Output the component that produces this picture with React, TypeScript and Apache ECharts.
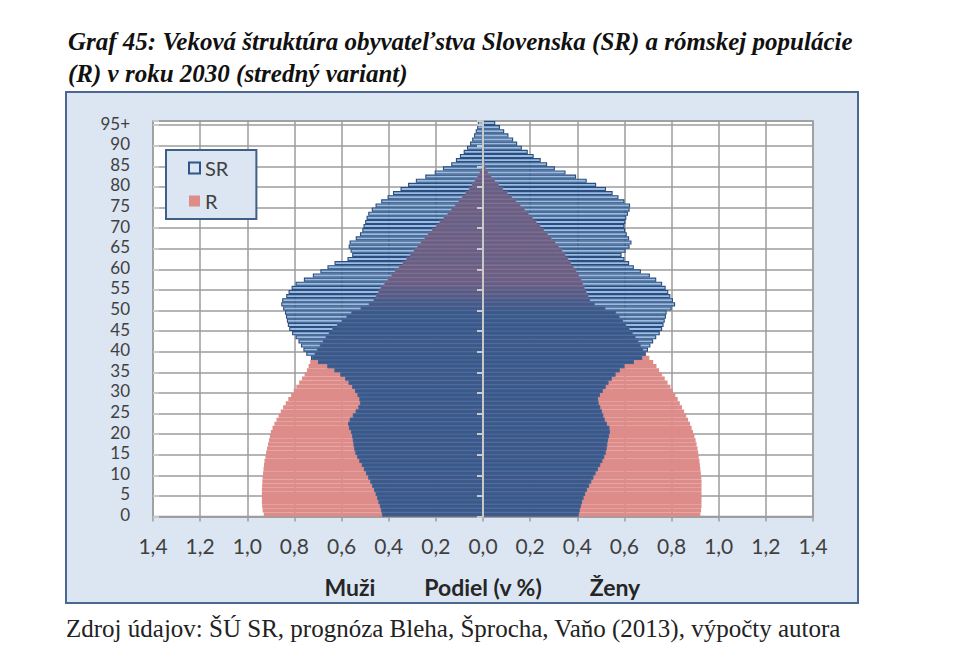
import React, { useEffect, useRef } from 'react';
import * as echarts from 'echarts';

// Ages 0..95 (95 = "95+")
const AGES: string[] = Array.from({ length: 96 }, (_, i) => String(i));

// Share of population (%) by single year of age, 2030
const SR_MEN = [
  0.428, 0.432, 0.437, 0.443, 0.449, 0.455, 0.462, 0.470, 0.478, 0.487,
  0.496, 0.505, 0.514, 0.524, 0.533, 0.541, 0.546, 0.549, 0.552, 0.555,
  0.560, 0.568, 0.572, 0.565, 0.552, 0.540, 0.528, 0.521, 0.524, 0.532,
  0.543, 0.555, 0.570, 0.585, 0.605, 0.630, 0.660, 0.700, 0.730, 0.750,
  0.762, 0.772, 0.783, 0.795, 0.810, 0.822, 0.828, 0.832, 0.836, 0.840,
  0.848, 0.856, 0.852, 0.835, 0.825, 0.812, 0.795, 0.760, 0.722, 0.690,
  0.660, 0.630, 0.575, 0.555, 0.562, 0.570, 0.566, 0.540, 0.522, 0.512,
  0.507, 0.500, 0.494, 0.487, 0.472, 0.456, 0.432, 0.405, 0.382, 0.350,
  0.318, 0.285, 0.245, 0.205, 0.170, 0.135, 0.115, 0.098, 0.082, 0.068,
  0.055, 0.046, 0.038, 0.031, 0.025, 0.022,
];
const SR_WOMEN = [
  0.406, 0.410, 0.415, 0.420, 0.426, 0.433, 0.441, 0.450, 0.459, 0.468,
  0.477, 0.487, 0.497, 0.506, 0.514, 0.520, 0.524, 0.527, 0.530, 0.534,
  0.538, 0.536, 0.525, 0.516, 0.510, 0.504, 0.497, 0.490, 0.488, 0.496,
  0.508, 0.520, 0.532, 0.546, 0.562, 0.580, 0.600, 0.640, 0.675, 0.690,
  0.700, 0.710, 0.722, 0.735, 0.750, 0.760, 0.766, 0.771, 0.776, 0.779,
  0.800, 0.815, 0.806, 0.795, 0.786, 0.775, 0.760, 0.735, 0.708, 0.670,
  0.640, 0.620, 0.600, 0.588, 0.605, 0.622, 0.630, 0.620, 0.610, 0.603,
  0.600, 0.604, 0.608, 0.615, 0.622, 0.624, 0.600, 0.575, 0.550, 0.522,
  0.480, 0.440, 0.395, 0.350, 0.305, 0.272, 0.245, 0.215, 0.190, 0.165,
  0.145, 0.128, 0.108, 0.090, 0.072, 0.052,
];
const R_MEN = [
  0.930, 0.935, 0.937, 0.938, 0.938, 0.938, 0.938, 0.937, 0.936, 0.935,
  0.933, 0.931, 0.929, 0.927, 0.923, 0.920, 0.916, 0.912, 0.908, 0.904,
  0.900, 0.893, 0.885, 0.876, 0.867, 0.858, 0.848, 0.837, 0.826, 0.814,
  0.803, 0.792, 0.780, 0.768, 0.757, 0.747, 0.740, 0.733, 0.726, 0.715,
  0.705, 0.693, 0.680, 0.668, 0.655, 0.640, 0.620, 0.600, 0.580, 0.560,
  0.520, 0.485, 0.465, 0.455, 0.445, 0.435, 0.420, 0.405, 0.390, 0.375,
  0.358, 0.342, 0.326, 0.310, 0.295, 0.280, 0.265, 0.250, 0.235, 0.218,
  0.200, 0.185, 0.168, 0.152, 0.136, 0.120, 0.105, 0.090, 0.075, 0.060,
  0.048, 0.036, 0.025, 0.015, 0.008, 0.005, 0.004, 0.003, 0.002, 0.002,
  0.001, 0.001, 0.001, 0.001, 0.001, 0.001,
];
const R_WOMEN = [
  0.922, 0.925, 0.927, 0.927, 0.927, 0.927, 0.927, 0.927, 0.927, 0.926,
  0.924, 0.922, 0.920, 0.918, 0.915, 0.913, 0.910, 0.906, 0.902, 0.897,
  0.891, 0.885, 0.878, 0.870, 0.862, 0.853, 0.844, 0.835, 0.826, 0.816,
  0.806, 0.795, 0.783, 0.771, 0.759, 0.747, 0.736, 0.722, 0.706, 0.692,
  0.680, 0.670, 0.660, 0.648, 0.636, 0.622, 0.608, 0.595, 0.580, 0.565,
  0.520, 0.475, 0.455, 0.448, 0.440, 0.432, 0.425, 0.418, 0.408, 0.397,
  0.385, 0.374, 0.362, 0.350, 0.337, 0.323, 0.308, 0.292, 0.276, 0.260,
  0.244, 0.228, 0.212, 0.195, 0.178, 0.160, 0.142, 0.124, 0.105, 0.086,
  0.068, 0.052, 0.036, 0.022, 0.012, 0.008, 0.006, 0.004, 0.003, 0.002,
  0.002, 0.001, 0.001, 0.001, 0.001, 0.001,
];

const TITLE_1 = 'Graf 45: Veková štruktúra obyvateľstva Slovenska (SR) a rómskej populácie';
const TITLE_2 = '(R) v roku 2030 (stredný variant)';
const SOURCE = 'Zdroj údajov: ŠÚ SR, prognóza Bleha, Šprocha, Vaňo (2013), výpočty autora';
const LABEL_MEN = 'Muži';
const LABEL_AXIS = 'Podiel (v %)';
const LABEL_WOMEN = 'Ženy';

const NAVY = [58, 88, 138];
const MAUVE = [108, 93, 130];
function overlapColor(age: number): string {
  let t = 0;
  if (age >= 57) t = 1;
  else if (age > 49) t = (age - 49) / 8;
  const c = NAVY.map((v, i) => Math.round(v + (MAUVE[i] - v) * t));
  return `rgb(${c[0]},${c[1]},${c[2]})`;
}
function overlapBorder(age: number): string {
  return age >= 53 ? 'rgba(150,135,165,0.7)' : 'rgba(95,125,170,0.7)';
}

const FONT = 'Lato, "Open Sans", sans-serif';
const SERIF = '"Liberation Serif", "DejaVu Serif", serif';

export default function App() {
  const ref = useRef<HTMLDivElement>(null);
  useEffect(() => {
    if (!ref.current) return;
    const chart = echarts.init(ref.current, null, { renderer: 'svg' });

    const ovMen = SR_MEN.map((v, i) => ({
      value: -Math.min(v, R_MEN[i]),
      itemStyle: { color: overlapColor(i), borderColor: overlapBorder(i) },
    }));
    const ovWomen = SR_WOMEN.map((v, i) => ({
      value: Math.min(v, R_WOMEN[i]),
      itemStyle: { color: overlapColor(i), borderColor: overlapBorder(i) },
    }));

    const barCommon = {
      type: 'bar' as const,
      barGap: '-100%',
      barCategoryGap: '0%',
      emphasis: { disabled: true },
    };

    const txt = (x: number, y: number, text: string, font: string, align: string, fill: string) => ({
      type: 'text',
      x,
      y,
      style: {
        text,
        font,
        fill,
        align,
        verticalAlign: 'middle',
        textAlign: align,
        textVerticalAlign: 'middle',
      },
    });

    const option: any = {
      animation: false,
      textStyle: { fontFamily: FONT },
      grid: {
        left: 153,
        right: 156,
        top: 121,
        bottom: 142.5,
        show: true,
        backgroundColor: '#ffffff',
        borderColor: '#9c9c9c',
        borderWidth: 1.5,
      },
      legend: {
        orient: 'vertical',
        left: 166,
        top: 150,
        data: [
          {
            name: 'SR',
            icon: 'rect',
            itemStyle: { color: '#dce6f2', borderColor: '#2f5487', borderWidth: 2 },
          },
          { name: 'R', icon: 'rect', itemStyle: { color: '#de8c8a', borderWidth: 0 } },
        ],
        itemWidth: 11,
        itemHeight: 11,
        itemGap: 13,
        padding: [8, 28, 8, 22],
        backgroundColor: '#dce6f2',
        borderColor: '#3f5f86',
        borderWidth: 2,
        textStyle: { fontFamily: FONT, fontSize: 20, color: '#404040' },
        selectedMode: false,
        z: 20,
      },
      xAxis: {
        type: 'value',
        min: -1.4,
        max: 1.4,
        interval: 0.2,
        axisLine: { show: true, onZero: false, lineStyle: { color: '#9c9c9c', width: 1.5 } },
        axisTick: { show: true, length: 5, lineStyle: { color: '#9c9c9c', width: 1.5 } },
        axisLabel: {
          margin: 18,
          fontFamily: FONT,
          fontSize: 21,
          color: '#404040',
          showMinLabel: true,
          showMaxLabel: true,
          formatter: (v: number) => Math.abs(v).toFixed(1).replace('.', ','),
        },
        splitLine: { show: true, lineStyle: { color: '#9c9c9c', width: 1.5 } },
      },
      yAxis: [
        {
          type: 'category',
          data: AGES,
          boundaryGap: true,
          axisLine: { show: false, onZero: false },
          axisTick: { show: false },
          axisLabel: {
            interval: 4,
            margin: 23,
            fontFamily: FONT,
            fontSize: 17,
            lineHeight: 17,
            color: '#404040',
            showMinLabel: true,
            showMaxLabel: true,
            hideOverlap: false,
            formatter: (v: string) => (v === '95' ? '95+' : v),
          },
          splitLine: { show: true, interval: 4, lineStyle: { color: '#9c9c9c', width: 1.5 } },
        },
        {
          type: 'category',
          data: AGES,
          position: 'left',
          axisLine: { show: true, onZero: true, lineStyle: { color: '#c9c9c9', width: 2 } },
          axisTick: { show: true, interval: 4, length: 6, lineStyle: { color: '#c9c9c9', width: 2 } },
          axisLabel: { show: false },
          splitLine: { show: false },
          z: 10,
        },
        {
          type: 'category',
          data: AGES,
          position: 'left',
          axisLine: { show: false, onZero: true },
          axisTick: { show: true, inside: true, interval: 4, length: 6, lineStyle: { color: '#c9c9c9', width: 2 } },
          axisLabel: { show: false },
          splitLine: { show: false },
          z: 10,
        },
      ],
      series: [
        { ...barCommon, name: 'R', stack: 'R', data: R_MEN.map((v) => -v), itemStyle: { color: '#de8c8a' } },
        { ...barCommon, name: 'R', stack: 'R', data: R_WOMEN, itemStyle: { color: '#de8c8a' } },
        {
          ...barCommon,
          name: 'SR',
          stack: 'SR',
          data: SR_MEN.map((v) => -v),
          itemStyle: { color: 'rgba(140,182,226,0.9)', borderColor: '#2c4d7d', borderWidth: 1.1 },
        },
        {
          ...barCommon,
          name: 'SR',
          stack: 'SR',
          data: SR_WOMEN,
          itemStyle: { color: 'rgba(140,182,226,0.9)', borderColor: '#2c4d7d', borderWidth: 1.1 },
        },
        { ...barCommon, name: 'overlap', stack: 'OV', data: ovMen, itemStyle: { borderWidth: 0.6 } },
        { ...barCommon, name: 'overlap', stack: 'OV', data: ovWomen, itemStyle: { borderWidth: 0.6 } },
      ],
      graphic: [
        {
          type: 'rect',
          z: -100,
          shape: { x: 66, y: 92, width: 792, height: 511 },
          style: { fill: '#dce6f2', stroke: '#4a6890', lineWidth: 2 },
          silent: true,
        },
        txt(68, 41, TITLE_1, `italic bold 25px ${SERIF}`, 'left', '#111111'),
        txt(68, 73, TITLE_2, `italic bold 25px ${SERIF}`, 'left', '#111111'),
        txt(66, 628, SOURCE, `25px ${SERIF}`, 'left', '#222222'),
        txt(350, 587, LABEL_MEN, `bold 23px ${FONT}`, 'center', '#262626'),
        txt(483, 587, LABEL_AXIS, `bold 23px ${FONT}`, 'center', '#262626'),
        txt(615, 587, LABEL_WOMEN, `bold 23px ${FONT}`, 'center', '#262626'),
      ],
    };

    chart.setOption(option);
    return () => chart.dispose();
  }, []);

  return (
    <div
      ref={ref}
      style={{ position: 'fixed', left: 0, top: 0, width: 969, height: 659, background: '#ffffff' }}
    />
  );
}
